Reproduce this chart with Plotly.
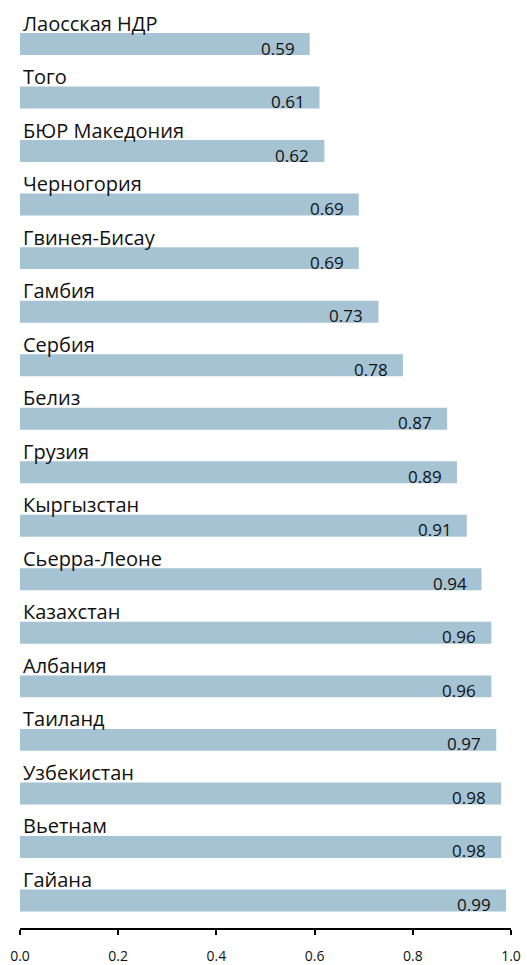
import plotly.graph_objects as go

countries = ["Лаосская НДР", "Того", "БЮР Македония", "Черногория", "Гвинея-Бисау",
             "Гамбия", "Сербия", "Белиз", "Грузия", "Кыргызстан", "Сьерра-Леоне",
             "Казахстан", "Албания", "Таиланд", "Узбекистан", "Вьетнам", "Гайана"]
values = [0.59, 0.61, 0.62, 0.69, 0.69, 0.73, 0.78, 0.87, 0.89, 0.91, 0.94,
          0.96, 0.96, 0.97, 0.98, 0.98, 0.99]
tick_vals = [0.0, 0.2, 0.4, 0.6, 0.8, 1.0]
tick_text = ["0.0", "0.2", "0.4", "0.6", "0.8", "1.0"]

BAR_COLOR = "#A6C3D4"
FONT = "Open Sans"

pos = list(range(len(countries)))

fig = go.Figure()
fig.add_trace(go.Bar(
    x=values, y=pos, orientation="h",
    marker=dict(color=BAR_COLOR, line=dict(width=0)),
    width=0.41, hoverinfo="skip",
))

annotations = []
for i, (c, v) in enumerate(zip(countries, values)):
    annotations.append(dict(
        x=0, y=i, xref="x", yref="y", text=c, showarrow=False,
        xanchor="left", yanchor="middle", xshift=1, yshift=21,
        font=dict(family=FONT, size=20, color="#111111"),
    ))
    annotations.append(dict(
        x=v, y=i, xref="x", yref="y", text=f"{v:.2f}", showarrow=False,
        xanchor="right", yanchor="middle", xshift=-13, yshift=-4,
        font=dict(family=FONT, size=17, color="#111111"),
    ))

fig.update_layout(
    width=527, height=965,
    margin=dict(l=20, r=16, t=0, b=37, autoexpand=False),
    paper_bgcolor="white", plot_bgcolor="white",
    showlegend=False,
    annotations=annotations,
    xaxis=dict(
        range=[0, 1.0], tickvals=tick_vals, ticktext=tick_text,
        showgrid=False, zeroline=False, automargin=False,
        showline=True, linecolor="#000000", linewidth=2,
        ticks="outside", ticklen=5, tickwidth=2, tickcolor="#000000",
        ticklabelstandoff=9,
        tickfont=dict(family=FONT, size=14, color="#111111"),
    ),
    yaxis=dict(
        range=[16.514, -0.822], showticklabels=False, showgrid=False,
        zeroline=False, showline=False, ticks="", automargin=False,
    ),
)

fig.write_html("out.html", config={"displayModeBar": False},
               post_script="document.body.style.margin='0';document.body.style.overflow='hidden';")
